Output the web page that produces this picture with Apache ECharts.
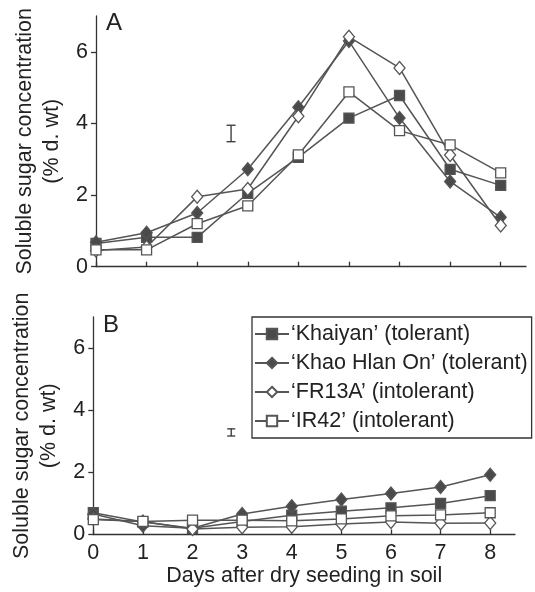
<!DOCTYPE html>
<html>
<head>
<meta charset="utf-8">
<script src="https://cdn.jsdelivr.net/npm/echarts@6/dist/echarts.min.js"></script>
<style>
  html, body { margin: 0; padding: 0; background: #fff; }
  #main { width: 535px; height: 592px; }
</style>
</head>
<body>
<div id="main"></div>
<script>
// days after dry seeding
const days = [0, 1, 2, 3, 4, 5, 6, 7, 8]
const yTicks = [0, 2, 4, 6]
const names = ['\u2018Khaiyan\u2019 (tolerant)', '\u2018Khao Hlan On\u2019 (tolerant)', '\u2018FR13A\u2019 (intolerant)', '\u2018IR42\u2019 (intolerant)']

// panel A
const aKhaiyan = [0.65, 0.82, 0.82, 2.05, 3.05, 4.15, 4.78, 2.72, 2.27]
const aKhao = [0.68, 0.95, 1.5, 2.72, 4.45, 6.3, 4.15, 2.38, 1.38]
const aFR13A = [0.45, 0.55, 1.95, 2.17, 4.2, 6.42, 5.55, 3.12, 1.15]
const aIR42 = [0.47, 0.47, 1.2, 1.7, 3.12, 4.88, 3.8, 3.4, 2.62]
// LSD bar: [day, low, high]
const lsdA = [2.67, 3.49, 3.95]

// panel B
const bKhaiyan = [0.7, 0.4, 0.2, 0.42, 0.62, 0.75, 0.86, 1.0, 1.25]
const bKhao = [0.66, 0.28, 0.2, 0.66, 0.91, 1.13, 1.32, 1.53, 1.92]
const bFR13A = [0.5, 0.42, 0.18, 0.23, 0.25, 0.34, 0.4, 0.36, 0.37]
const bIR42 = [0.48, 0.42, 0.46, 0.46, 0.44, 0.5, 0.6, 0.63, 0.7]
const lsdB = [2.78, 3.17, 3.4]

const FONT = "'Liberation Sans', Arial, Helvetica, sans-serif"
const FS = 21.5
const LINE = '#555'
const DARK = '#4a4a4a'

// marker styles per cultivar
const marks = [
  { symbol: 'rect', size: 10, fill: DARK },
  { symbol: 'diamond', size: [11, 13], fill: DARK },
  { symbol: 'diamond', size: [11, 13], fill: '#fff' },
  { symbol: 'rect', size: 10, fill: '#fff' }
]

function lineSeries(idx, values, gridIdx) {
  const m = marks[idx]
  return {
    name: names[idx],
    type: 'line',
    xAxisIndex: gridIdx,
    yAxisIndex: gridIdx,
    data: days.map((d, i) => [d, values[i]]),
    symbol: m.symbol,
    symbolSize: m.size,
    showAllSymbol: true,
    lineStyle: { color: LINE, width: 1.5 },
    itemStyle: { color: m.fill, borderColor: LINE, borderWidth: 1.3, opacity: 1 },
    emphasis: { disabled: true },
    z: 3 + idx
  }
}

function lsdSeries(bar, gridIdx, cap) {
  return {
    type: 'custom',
    xAxisIndex: gridIdx,
    yAxisIndex: gridIdx,
    data: [bar],
    encode: { x: 0, y: [1, 2] },
    silent: true,
    renderItem: function (params, api) {
      const lo = api.coord([api.value(0), api.value(1)])
      const hi = api.coord([api.value(0), api.value(2)])
      const st = { stroke: '#333', lineWidth: 1.3 }
      return {
        type: 'group',
        children: [
          { type: 'line', shape: { x1: lo[0], y1: lo[1], x2: hi[0], y2: hi[1] }, style: st },
          { type: 'line', shape: { x1: lo[0] - cap, y1: lo[1], x2: lo[0] + cap, y2: lo[1] }, style: st },
          { type: 'line', shape: { x1: hi[0] - cap, y1: hi[1], x2: hi[0] + cap, y2: hi[1] }, style: st }
        ]
      }
    }
  }
}

function xAxis(gridIdx, showLabels) {
  return {
    type: 'value',
    gridIndex: gridIdx,
    min: 0,
    max: 8.5,
    interval: 1,
    splitLine: { show: false },
    axisLine: { show: true, onZero: false, lineStyle: { color: '#333', width: 1.3 } },
    axisTick: { show: true, inside: true, length: 5, customValues: days, lineStyle: { color: '#333', width: 1.3 } },
    axisLabel: {
      show: showLabels, customValues: days, margin: 8,
      fontSize: FS, color: '#222', fontFamily: FONT
    },
    name: showLabels ? 'Days after dry seeding in soil' : '',
    nameLocation: 'middle',
    nameGap: 29,
    nameTextStyle: { fontSize: FS, color: '#222', fontFamily: FONT }
  }
}

function yAxis(gridIdx) {
  return {
    type: 'value',
    gridIndex: gridIdx,
    min: 0,
    max: 7,
    interval: 2,
    splitLine: { show: false },
    axisLine: { show: true, lineStyle: { color: '#333', width: 1.3 } },
    axisTick: { show: true, length: 5, customValues: yTicks, lineStyle: { color: '#333', width: 1.3 } },
    axisLabel: { customValues: yTicks, margin: 8, fontSize: FS, color: '#222', fontFamily: FONT },
    name: 'Soluble sugar concentration\n(% d. wt)',
    nameLocation: 'middle',
    nameRotate: 90,
    nameGap: 30,
    nameTextStyle: { fontSize: FS, lineHeight: 27, color: '#222', fontFamily: FONT }
  }
}

const myChart = echarts.init(document.getElementById('main'), null, { renderer: 'canvas' })

const option = {
  animation: false,
  backgroundColor: '#fff',
  grid: [
    { left: 96, top: 16, width: 430, height: 250.7, outerBoundsMode: 'none' },
    { left: 93.3, top: 317, width: 421.7, height: 217.5, outerBoundsMode: 'none' }
  ],
  xAxis: [xAxis(0, false), xAxis(1, true)],
  yAxis: [yAxis(0), yAxis(1)],
  legend: {
    data: names,
    orient: 'vertical',
    left: 252,
    top: 317,
    itemWidth: 34,
    itemHeight: 13,
    itemGap: 7,
    padding: [6, 4, 6, 2],
    borderColor: '#333',
    borderWidth: 1.3,
    selectedMode: false,
    textStyle: { fontSize: FS, color: '#222', fontFamily: FONT, padding: [0, 0, 0, -3] }
  },
  graphic: [
    { type: 'text', left: 106, top: 11, style: { text: 'A', fontSize: 24, fill: '#222', fontFamily: FONT } },
    { type: 'text', left: 103, top: 313, style: { text: 'B', fontSize: 24, fill: '#222', fontFamily: FONT } }
  ],
  series: [
    lineSeries(0, aKhaiyan, 0),
    lineSeries(1, aKhao, 0),
    lineSeries(2, aFR13A, 0),
    lineSeries(3, aIR42, 0),
    lsdSeries(lsdA, 0, 4.5),
    lineSeries(0, bKhaiyan, 1),
    lineSeries(1, bKhao, 1),
    lineSeries(2, bFR13A, 1),
    lineSeries(3, bIR42, 1),
    lsdSeries(lsdB, 1, 4)
  ]
}

myChart.setOption(option)
</script>
</body>
</html>
